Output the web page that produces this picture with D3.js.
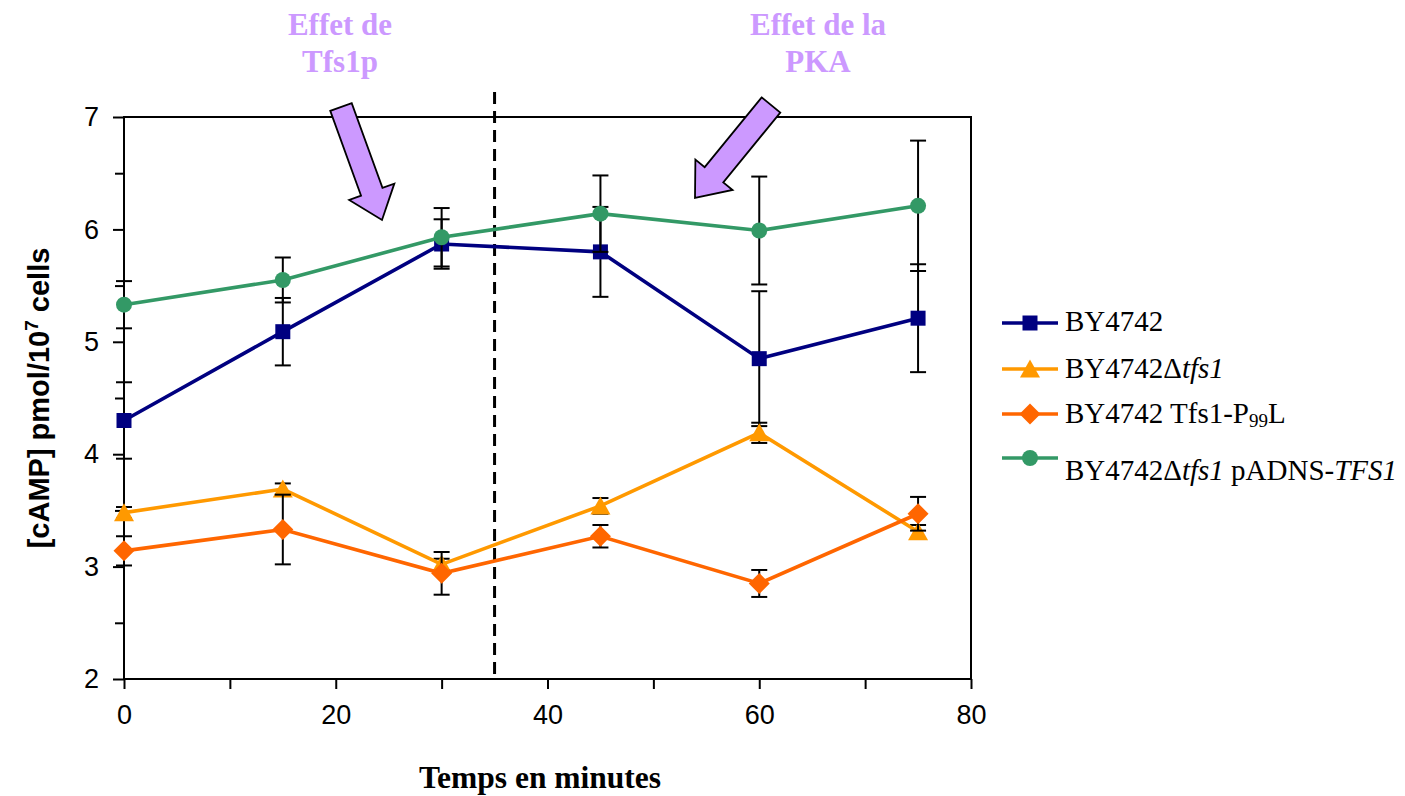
<!DOCTYPE html>
<html>
<head>
<meta charset="utf-8">
<script src="https://cdn.jsdelivr.net/npm/d3@7"></script>
<style>
  html, body { margin: 0; padding: 0; background: #fff; }
  svg { display: block; }
</style>
</head>
<body>
<svg id="chart" width="1405" height="796"></svg>
<script>
// ---------------- data ----------------
const times = [0, 15, 30, 45, 60, 75];
const seriesNames = ["BY4742", "BY4742Δtfs1", "BY4742 Tfs1-P99L", "BY4742Δtfs1 pADNS-TFS1"];
const by4742      = [4.30, 5.09, 5.87, 5.80, 4.85, 5.21];
const by4742Err   = [0.34, 0.30, 0.22, 0.40, 0.60, 0.48];
const dtfs1       = [3.48, 3.69, 3.02, 3.54, 4.19, 3.31];
const dtfs1Err    = [0.05, 0.05, 0.05, 0.07, 0.09, 0.06];
const p99l        = [3.14, 3.33, 2.94, 3.27, 2.85, 3.47];
const p99lErr     = [0.13, 0.31, 0.19, 0.10, 0.12, 0.15];
const rescue      = [5.33, 5.55, 5.93, 6.14, 5.99, 6.21];
const rescueErr   = [0.21, 0.20, 0.26, 0.34, 0.48, 0.58];
const yTicksMajor = [2, 3, 4, 5, 6, 7];
const yTicksMinor = [2.5, 3.5, 4.5, 5.5, 6.5];
const xTicks      = [0, 10, 20, 30, 40, 50, 60, 70, 80];
const xTickLabels = [0, 20, 40, 60, 80];
const dividerTime = 35;
const annotations = [["Effet de", "Tfs1p"], ["Effet de la", "PKA"]];

// ---------------- styles ----------------
const colors  = ["#000080", "#ff9900", "#ff6600", "#339966"];
const markers = ["square", "triangle", "diamond", "circle"];
const seriesData = [
  { name: seriesNames[0], values: by4742, errs: by4742Err },
  { name: seriesNames[1], values: dtfs1,  errs: dtfs1Err },
  { name: seriesNames[2], values: p99l,   errs: p99lErr },
  { name: seriesNames[3], values: rescue, errs: rescueErr }
];

const svg = d3.select("#chart");
const x = d3.scaleLinear().domain([0, 80]).range([124, 971]);
const y = d3.scaleLinear().domain([2, 7]).range([679, 117]);

function markerPath(type) {
  switch (type) {
    case "square":   return "M-7.5,-7.5H7.5V7.5H-7.5Z";
    case "triangle": return "M0,-9.5L10,8.5H-10Z";
    case "diamond":  return "M0,-10.5L10.5,0L0,10.5L-10.5,0Z";
    case "circle":   return "M8,0A8,8 0 1,1 -8,0A8,8 0 1,1 8,0Z";
  }
}

// ---------------- axes ----------------
const yAxis = d3.axisLeft(y).tickValues(yTicksMajor).tickSize(11).tickPadding(14).tickFormat(d3.format("d"));
const gy = svg.append("g").attr("transform", `translate(${x(0)},0)`).call(yAxis);
gy.select(".domain").remove();
gy.selectAll(".tick line").attr("stroke", "#000").attr("stroke-width", 2);
gy.selectAll(".tick text").attr("font-family", "'Liberation Sans', Arial, sans-serif").attr("font-size", 27).attr("fill", "#000");

const yMinor = d3.axisLeft(y).tickValues(yTicksMinor).tickSize(9).tickFormat("");
const gym = svg.append("g").attr("transform", `translate(${x(0)},0)`).call(yMinor);
gym.select(".domain").remove();
gym.selectAll(".tick line").attr("stroke", "#000").attr("stroke-width", 2);

const xAxis = d3.axisBottom(x).tickValues(xTicks).tickSize(10).tickPadding(16)
  .tickFormat(d => xTickLabels.includes(d) ? d : "");
const gx = svg.append("g").attr("transform", `translate(0,${y(2)})`).call(xAxis);
gx.select(".domain").remove();
gx.selectAll(".tick line").attr("stroke", "#000").attr("stroke-width", 2);
gx.selectAll(".tick text").attr("font-family", "'Liberation Sans', Arial, sans-serif").attr("font-size", 27).attr("fill", "#000");

// frame
svg.append("rect")
  .attr("x", x(0)).attr("y", y(7))
  .attr("width", x(80) - x(0)).attr("height", y(2) - y(7))
  .attr("fill", "none").attr("stroke", "#000").attr("stroke-width", 2);

// divider
svg.append("line")
  .attr("x1", x(dividerTime)).attr("x2", x(dividerTime))
  .attr("y1", 92).attr("y2", y(2))
  .attr("stroke", "#000").attr("stroke-width", 3).attr("stroke-dasharray", "12,7");

// titles
svg.append("text")
  .attr("x", 540).attr("y", 788)
  .attr("text-anchor", "middle")
  .attr("font-family", "'Liberation Serif', 'Times New Roman', serif")
  .attr("font-weight", "bold").attr("font-size", 31.5)
  .text("Temps en minutes");

const yt = svg.append("text")
  .attr("transform", "translate(49,398) rotate(-90)")
  .attr("text-anchor", "middle")
  .attr("font-family", "'Liberation Sans', Arial, sans-serif")
  .attr("font-weight", "bold").attr("font-size", 29);
yt.append("tspan").text("[cAMP] pmol/10");
yt.append("tspan").attr("dy", -11).attr("font-size", 19).text("7");
yt.append("tspan").attr("dy", 11).text(" cells");

// ---------------- series ----------------
const line = d3.line().x((d, i) => x(times[i])).y(d => y(d));
seriesData.forEach((s, si) => {
  const g = svg.append("g");
  // error bars
  const eb = g.selectAll("g.err").data(s.values).enter().append("g");
  eb.append("line")
    .attr("x1", (d, i) => x(times[i])).attr("x2", (d, i) => x(times[i]))
    .attr("y1", (d, i) => y(d + s.errs[i])).attr("y2", (d, i) => y(d - s.errs[i]))
    .attr("stroke", "#000").attr("stroke-width", 2);
  [1, -1].forEach(sign => {
    eb.append("line")
      .attr("x1", (d, i) => x(times[i]) - 8).attr("x2", (d, i) => x(times[i]) + 8)
      .attr("y1", (d, i) => y(d + sign * s.errs[i])).attr("y2", (d, i) => y(d + sign * s.errs[i]))
      .attr("stroke", "#000").attr("stroke-width", 2);
  });
  g.append("path").datum(s.values).attr("d", line)
    .attr("fill", "none").attr("stroke", colors[si]).attr("stroke-width", 3.6);
  g.selectAll("path.m").data(s.values).enter().append("path")
    .attr("transform", (d, i) => `translate(${x(times[i])},${y(d)})`)
    .attr("d", markerPath(markers[si]))
    .attr("fill", colors[si]);
});

// ---------------- legend ----------------
const legendRowsY = [323, 369, 414, 458];
const legendTextY = [331, 378, 423, 480];
const lg = svg.append("g");
seriesData.forEach((s, si) => {
  lg.append("line").attr("x1", 1002).attr("x2", 1058)
    .attr("y1", legendRowsY[si]).attr("y2", legendRowsY[si])
    .attr("stroke", colors[si]).attr("stroke-width", 3.6);
  lg.append("path").attr("transform", `translate(1030,${legendRowsY[si]})`)
    .attr("d", markerPath(markers[si])).attr("fill", colors[si]);
  const t = lg.append("text").attr("x", 1065).attr("y", legendTextY[si])
    .attr("font-family", "'Liberation Serif', 'Times New Roman', serif")
    .attr("font-size", 29).attr("fill", "#000");
  if (si === 0) t.text("BY4742");
  else if (si === 1) { t.append("tspan").text("BY4742Δ"); t.append("tspan").attr("font-style", "italic").text("tfs1"); }
  else if (si === 2) {
    t.append("tspan").text("BY4742 Tfs1-P");
    t.append("tspan").attr("font-size", 19).attr("dy", 4).text("99");
    t.append("tspan").attr("dy", -4).text("L");
  } else {
    t.append("tspan").text("BY4742Δ");
    t.append("tspan").attr("font-style", "italic").text("tfs1");
    t.append("tspan").text(" pADNS-");
    t.append("tspan").attr("font-style", "italic").text("TFS1");
  }
});

// ---------------- annotations ----------------
const annX = [340, 818];
annotations.forEach((lines, ai) => {
  lines.forEach((l, li) => {
    svg.append("text").attr("x", annX[ai]).attr("y", 35 + li * 37)
      .attr("text-anchor", "middle")
      .attr("font-family", "'Liberation Serif', 'Times New Roman', serif")
      .attr("font-weight", "bold").attr("font-size", 31)
      .attr("fill", "#cc99ff").text(l);
  });
});

function arrowPoints(T, P, w, h, L) {
  const dx = P[0] - T[0], dy = P[1] - T[1];
  const len = Math.hypot(dx, dy);
  const u = [dx / len, dy / len], n = [-u[1], u[0]];
  const B = [P[0] - u[0] * L, P[1] - u[1] * L];
  const pt = (o, k) => [o[0] + n[0] * k, o[1] + n[1] * k];
  return [pt(T, w), pt(B, w), pt(B, h), P, pt(B, -h), pt(B, -w), pt(T, -w)];
}
const arrows = [
  arrowPoints([341, 107], [382, 220], 11.4, 24, 30),
  arrowPoints([771, 105], [695, 198], 12, 24, 30)
];
arrows.forEach(pts => {
  svg.append("polygon").attr("points", pts.map(p => p.join(",")).join(" "))
    .attr("fill", "#cc99ff").attr("stroke", "#000").attr("stroke-width", 1.8)
    .attr("stroke-linejoin", "miter");
});
</script>
</body>
</html>
